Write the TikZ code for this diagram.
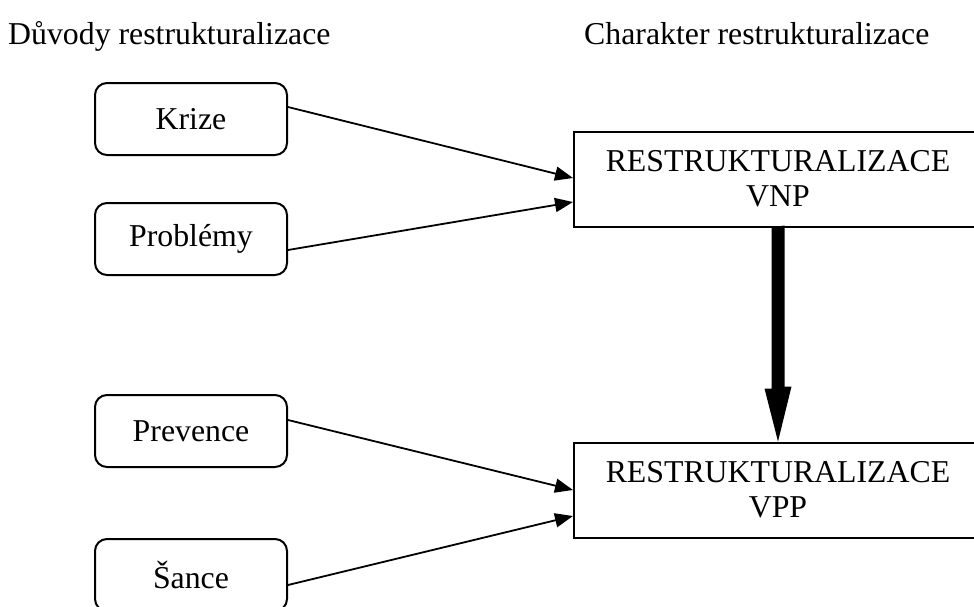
\documentclass[tikz,border=0pt]{standalone}
\usepackage{fontspec}
\setmainfont{Liberation Serif}
\usetikzlibrary{arrows.meta}
\begin{document}
\begin{tikzpicture}[x=1pt,y=-1pt,
  every node/.style={font=\fontsize{31.8}{35}\selectfont},
  causebox/.style={draw,line width=2pt,rounded corners=12pt,minimum width=192pt,minimum height=72pt,inner sep=0pt},
  resbox/.style={draw,line width=2pt,minimum width=408pt,minimum height=95pt,inner sep=0pt,align=center},
  thin arrow/.style={line width=1.8pt,-{Triangle[length=18pt,width=14pt]}},
  thick arrow/.style={fill=black}
]
\useasboundingbox (0,0) rectangle (974,606);
\node[anchor=base west,inner sep=0pt] (hl) at (8,44) {Důvody restrukturalizace};
\node[anchor=base west,inner sep=0pt] (hr) at (584,44) {Charakter restrukturalizace};

\node[causebox] (krize) at (191,119) {Krize};
\node[causebox] (probl) at (191,239) {Problémy};
\node[causebox] (prev) at (191,431) {Prevence};
\node[causebox] (sance) at (191,575) {Šance};

\node[resbox] (vnp) at (778,179) {RESTRUKTURALIZACE\\VNP};
\node[resbox] (vpp) at (778,490) {RESTRUKTURALIZACE\\VPP};

\draw[thin arrow] ([yshift=12pt]krize.east) -- ([yshift=1pt]vnp.west);
\draw[thin arrow] ([yshift=-11pt]probl.east) -- ([yshift=-23pt]vnp.west);
\draw[thin arrow] ([yshift=11pt]prev.east) -- (vpp.west);
\draw[thin arrow] ([yshift=-10pt]sance.east) -- ([yshift=-26pt]vpp.west);
\fill[thick arrow] (vnp.south) ++(-6.5,0) -- ++(0,161) -- ++(-7,0) -- (vpp.north)
  -- ++(13.5,-55) -- ++(-7,0) -- ++(0,-161) -- cycle;
\end{tikzpicture}
\end{document}
